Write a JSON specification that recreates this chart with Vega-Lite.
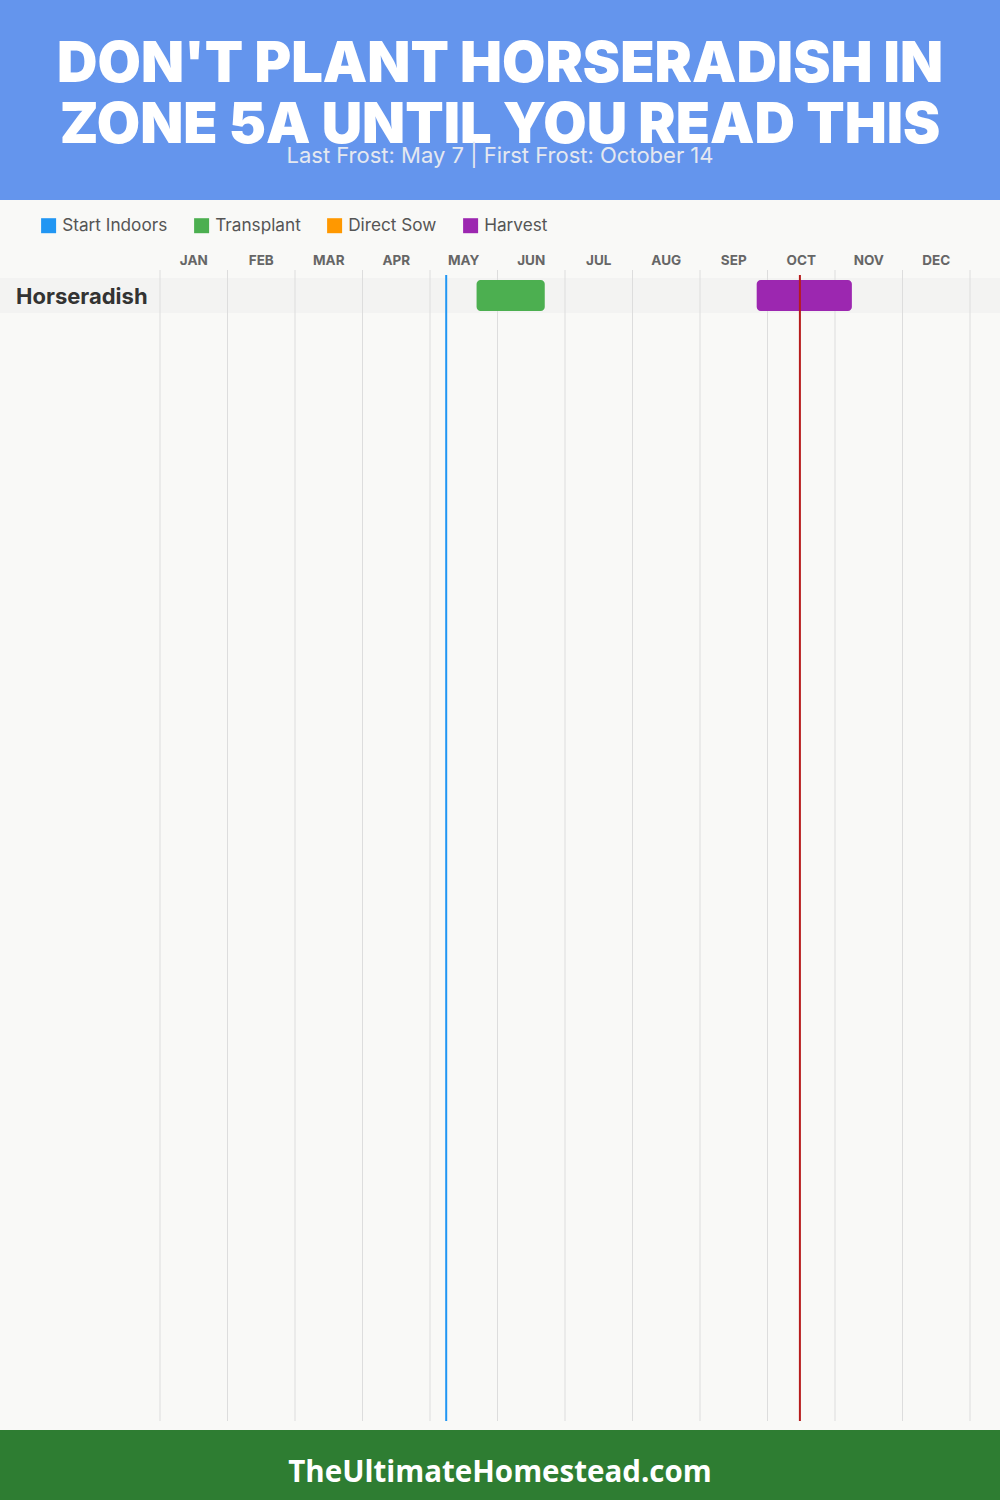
{
  "$schema": "https://vega.github.io/schema/vega-lite/v6.json",
  "background": "#6495ED",
  "padding": {"top": 37, "left": 0, "right": 0, "bottom": 0},
  "bounds": "flush",
  "spacing": 0,
  "title": {
    "text": ["DON'T PLANT HORSERADISH IN", "ZONE 5A UNTIL YOU READ THIS"],
    "subtitle": "Last Frost: May 7 | First Frost: October 14",
    "anchor": "middle",
    "frame": "group",
    "font": "Inter",
    "fontWeight": 900,
    "fontSize": 56,
    "lineHeight": 61,
    "color": "#FFFFFF",
    "subtitleFont": "Inter",
    "subtitleFontWeight": 400,
    "subtitleFontSize": 22,
    "subtitleColor": "#E4E8F0",
    "subtitlePadding": -9,
    "offset": 32
  },
  "datasets": {
    "crops": [{"crop": "Horseradish", "row": 0, "rowEnd": 1, "rowMid": 0.5}],
    "tasks": [
      {"crop": "Horseradish", "row": 0, "rowEnd": 1, "task": "Transplant", "start": 4.69, "end": 5.7},
      {"crop": "Horseradish", "row": 0, "rowEnd": 1, "task": "Harvest", "start": 8.84, "end": 10.25}
    ],
    "months": [
      {"month": "JAN", "mid": 0.5}, {"month": "FEB", "mid": 1.5}, {"month": "MAR", "mid": 2.5},
      {"month": "APR", "mid": 3.5}, {"month": "MAY", "mid": 4.5}, {"month": "JUN", "mid": 5.5},
      {"month": "JUL", "mid": 6.5}, {"month": "AUG", "mid": 7.5}, {"month": "SEP", "mid": 8.5},
      {"month": "OCT", "mid": 9.5}, {"month": "NOV", "mid": 10.5}, {"month": "DEC", "mid": 11.5}
    ],
    "bounds": [
      {"b": 0}, {"b": 1}, {"b": 2}, {"b": 3}, {"b": 4}, {"b": 5}, {"b": 6},
      {"b": 7}, {"b": 8}, {"b": 9}, {"b": 10}, {"b": 11}, {"b": 12}
    ],
    "frost": [
      {"name": "Last Frost", "pos": 4.24},
      {"name": "First Frost", "pos": 9.48}
    ],
    "site": [{"site": "TheUltimateHomestead.com"}]
  },
  "vconcat": [
    {
      "width": 1000,
      "height": 1230,
      "view": {"fill": "#F9F9F7", "stroke": null},
      "layer": [
        {
          "data": {"name": "crops"},
          "mark": {"type": "rect", "color": "#F3F3F2"},
          "encoding": {
            "x": {"datum": -2.3704, "type": "quantitative", "scale": {"domain": [-2.3704, 12.4444], "nice": false, "zero": false}, "axis": null},
            "x2": {"datum": 12.4444},
            "y": {"field": "row", "type": "quantitative", "scale": {"domain": [-2.2286, 32.9143], "reverse": true, "nice": false, "zero": false}, "axis": null},
            "y2": {"field": "rowEnd"}
          }
        },
        {
          "data": {"name": "bounds"},
          "mark": {"type": "rule", "color": "#DDDDDD", "strokeWidth": 1},
          "encoding": {
            "x": {"field": "b", "type": "quantitative"},
            "y": {"datum": -0.2286, "type": "quantitative"},
            "y2": {"datum": 32.657}
          }
        },
        {
          "data": {"name": "months"},
          "mark": {"type": "text", "font": "Inter", "fontWeight": 700, "fontSize": 13.5, "color": "#666666", "baseline": "middle", "align": "center"},
          "encoding": {
            "x": {"field": "mid", "type": "quantitative"},
            "y": {"datum": -0.5, "type": "quantitative"},
            "text": {"field": "month"}
          }
        },
        {
          "data": {"name": "tasks"},
          "mark": {"type": "rect", "cornerRadius": 4, "yOffset": 2, "y2Offset": -2},
          "encoding": {
            "x": {"field": "start", "type": "quantitative"},
            "x2": {"field": "end"},
            "y": {"field": "row", "type": "quantitative"},
            "y2": {"field": "rowEnd"},
            "color": {
              "field": "task",
              "type": "nominal",
              "scale": {"domain": ["Start Indoors", "Transplant", "Direct Sow", "Harvest"], "range": ["#2196F3", "#4CAF50", "#FF9800", "#9C27B0"]},
              "legend": {
                "title": null,
                "orient": "none",
                "direction": "horizontal",
                "legendX": 40,
                "legendY": 17,
                "symbolType": "square",
                "symbolSize": 225,
                "symbolStrokeWidth": 0,
                "symbolOpacity": 1,
                "labelFont": "Inter",
                "labelFontSize": 17.2,
                "labelColor": "#555555",
                "labelOffset": 5,
                "columnPadding": 25,
                "padding": 0
              }
            }
          }
        },
        {
          "data": {"name": "frost"},
          "mark": {"type": "rule", "strokeWidth": 2},
          "encoding": {
            "x": {"field": "pos", "type": "quantitative"},
            "y": {"datum": -0.0857, "type": "quantitative"},
            "y2": {"datum": 32.657},
            "stroke": {"field": "name", "type": "nominal", "scale": {"domain": ["Last Frost", "First Frost"], "range": ["#2196F3", "#B71C1C"]}, "legend": null}
          }
        },
        {
          "data": {"name": "crops"},
          "mark": {"type": "text", "font": "Inter", "fontWeight": 700, "fontSize": 22, "color": "#333333", "align": "left", "baseline": "middle", "dy": 1.5},
          "encoding": {
            "x": {"datum": -2.1333, "type": "quantitative"},
            "y": {"field": "rowMid", "type": "quantitative"},
            "text": {"field": "crop"}
          }
        }
      ]
    },
    {
      "width": 1000,
      "height": 70,
      "view": {"fill": "#2E7D32", "stroke": null},
      "data": {"name": "site"},
      "mark": {"type": "text", "font": "Open Sans", "fontWeight": 700, "fontSize": 29.5, "color": "#FFFFFF", "baseline": "middle", "align": "center", "dy": 8},
      "encoding": {
        "text": {"field": "site"}
      }
    }
  ]
}
